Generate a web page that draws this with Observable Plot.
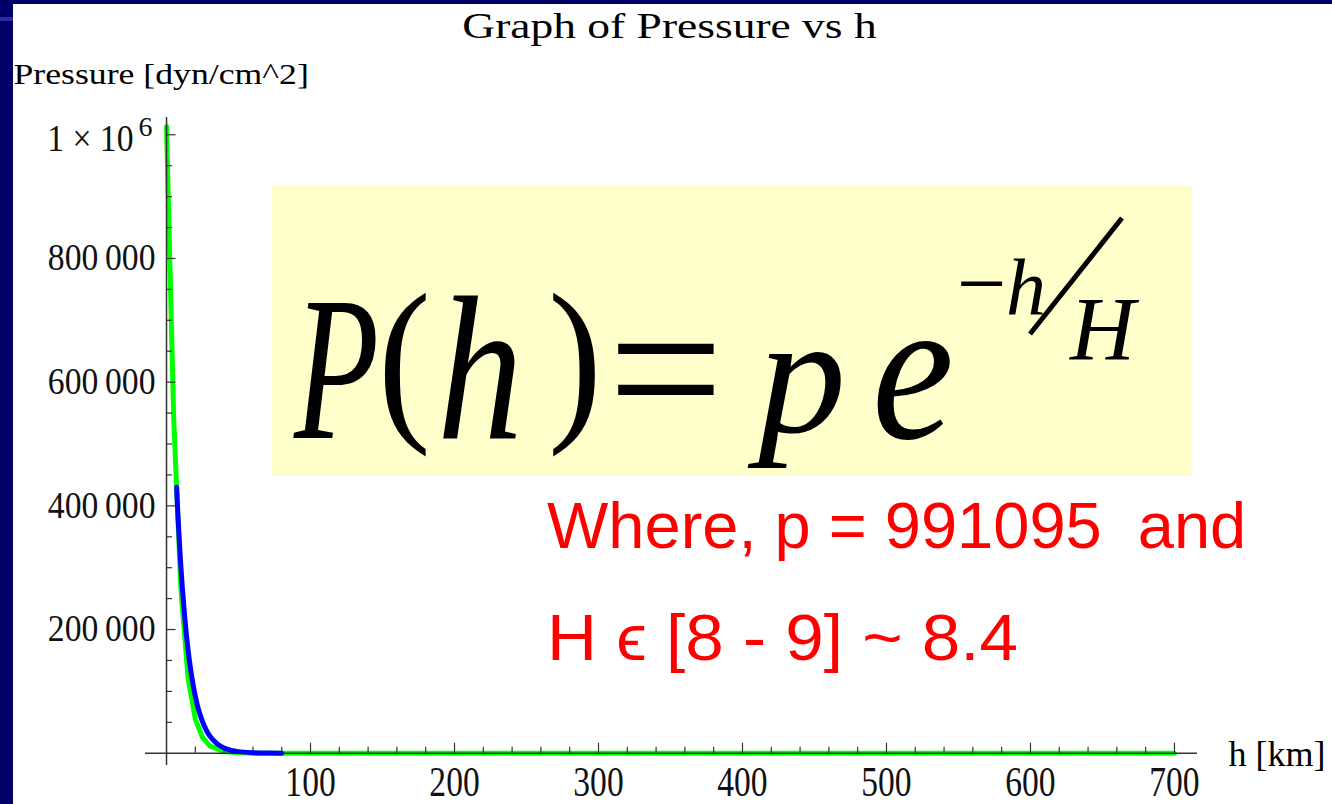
<!DOCTYPE html>
<html><head><meta charset="utf-8">
<script src="https://cdn.jsdelivr.net/npm/d3@7"></script>
<script src="https://cdn.jsdelivr.net/npm/@observablehq/plot@0.6"></script>
<style>
html,body{margin:0;padding:0;}
body{width:1332px;height:804px;background:#000066;position:relative;overflow:hidden;}
#panel{position:absolute;left:13px;top:4px;right:0;bottom:0;background:#fff;}
#stripe{position:absolute;left:0;top:17px;width:13px;height:4px;background:#2a2aa8;}
#chart{position:absolute;left:0;top:0;}
#note{position:absolute;left:0;top:0;}
</style></head><body>
<div id="panel"></div><div id="stripe"></div>
<div id="chart"></div>
<svg id="note" width="1332" height="804" xmlns="http://www.w3.org/2000/svg">
  <rect x="272" y="185" width="920" height="291" fill="#FFFFCC"/>
  <g font-family="'Liberation Serif','Times New Roman',serif" fill="#000">
    <text font-style="italic" font-size="205" transform="translate(294,438) scale(0.68,1)">P</text>
    <text font-size="180" transform="translate(378,418) scale(0.88,1)">(</text>
    <text font-style="italic" font-size="205" transform="translate(437,438) scale(0.84,1)">h</text>
    <text font-size="180" transform="translate(548,418) scale(0.9,1)">)</text>
    <text font-size="205" transform="translate(608,438)">=</text>
    <text font-style="italic" font-size="200" transform="translate(758,432) scale(0.88,0.85)">p</text>
    <text font-style="italic" font-size="205" transform="translate(872,438) scale(0.9,1)">e</text>
    <text font-size="88" transform="translate(957,313)">−</text>
    <text font-style="italic" font-size="80" transform="translate(1006,314)">h</text>
    <line x1="1030" y1="334" x2="1122" y2="218" stroke="#000" stroke-width="5"/>
    <text font-style="italic" font-size="90" transform="translate(1070,360)">H</text>
  </g>
  <g font-family="'Liberation Sans',Arial,sans-serif" font-size="65" fill="#FF0000" style="white-space:pre">
    <text x="547" y="548" xml:space="preserve">Where, p = 991095  and</text>
    <text transform="translate(547,660) scale(1.065,1)" xml:space="preserve">H ϵ [8 - 9] ~ 8.4</text>
  </g>
</svg>
<script>
// ---- data ----
const greenH = [0, 5, 10, 15, 20, 25, 30, 40, 50, 60, 70, 80, 90, 100, 150, 200, 300, 400, 500, 600, 700];
const greenP = [1013250, 540480, 265000, 121110, 55290, 25490, 11970, 2871, 798, 219, 52, 10.5, 1.8, 0.32, 0.0045, 0.00085, 0.00009, 0.000015, 0.000003, 0.0000008, 0.0000003];
const blueH = [7, 8, 9, 10, 12, 14, 16, 18, 20, 22, 25, 28, 30, 35, 40, 45, 50, 60, 70, 80];
const blueP = [430000, 381000, 339000, 301000, 238000, 187000, 148000, 117000, 92000, 72600, 51000, 35600, 28000, 15600, 8500, 4700, 2600, 800, 240, 72];
const xTicks = [100, 200, 300, 400, 500, 600, 700];
const xTickLabels = ["100", "200", "300", "400", "500", "600", "700"];
const yTicks = [200000, 400000, 600000, 800000, 1000000];
const yTickLabels = ["200\u2009000", "400\u2009000", "600\u2009000", "800\u2009000", "1 \u00d7 10"];
const yTickExponents = ["", "", "", "", "6"];
const titleText = "Graph of Pressure vs h";
const yLabelText = "Pressure [dyn/cm^2]";
const xLabelText = "h [km]";

const green = greenH.map((h, i) => ({h, p: greenP[i]}));
const blue = blueH.map((h, i) => ({h, p: blueP[i]}));
const yTickData = yTicks.map((v, i) => ({v, label: yTickLabels[i], exp: yTickExponents[i]}));
const xTickData = xTicks.map((v, i) => ({v, label: xTickLabels[i]}));
const xMinor = d3.range(20, 701, 20).filter(v => v % 100);
const yMinor = d3.range(50000, 1000001, 50000).filter(v => v % 200000);

// ---- layout ----
const xDomain = [-14.6, 716], xRange = [145, 1197];
const yDomain = [-19800, 1027900], yRange = [765, 117];
const kx = (xRange[1] - xRange[0]) / (xDomain[1] - xDomain[0]);
const ky = (yRange[0] - yRange[1]) / (yDomain[1] - yDomain[0]);
const serif = "'Liberation Serif','Times New Roman',serif";
const axisColor = "#333";

const chart = Plot.plot({
  width: 1332, height: 804,
  marginLeft: 145, marginRight: 135, marginTop: 117, marginBottom: 39,
  x: {domain: xDomain, range: xRange, axis: null},
  y: {domain: yDomain, range: yRange, axis: null},
  style: {background: "transparent", overflow: "visible"},
  marks: [
    Plot.line(green, {x: "h", y: "p", stroke: "#00ff00", strokeWidth: 5, strokeLinejoin: "round"}),
    Plot.ruleY([0], {stroke: axisColor, strokeWidth: 1.5}),
    Plot.ruleX([0], {stroke: axisColor, strokeWidth: 1.5}),
    Plot.ruleY(yTicks, {y: d => d, x1: 0, x2: 9.5 / kx, stroke: axisColor, strokeWidth: 1.2}),
    Plot.ruleY(yMinor, {y: d => d, x1: 0, x2: 6 / kx, stroke: axisColor, strokeWidth: 1.2}),
    Plot.ruleX(xTicks, {x: d => d, y1: 0, y2: 10 / ky, stroke: axisColor, strokeWidth: 1.2}),
    Plot.ruleX(xMinor, {x: d => d, y1: 0, y2: 6 / ky, stroke: axisColor, strokeWidth: 1.2}),
    Plot.line(blue, {x: "h", y: "p", stroke: "#0000ff", strokeWidth: 5, curve: "monotone-x"}),
    Plot.text(yTickData, {x: 0, y: "v", text: "label", textAnchor: "end", lineAnchor: "middle",
      fontFamily: serif, fontSize: 37, fill: "#111"}),
    Plot.text(yTickData.filter(d => d.exp), {x: 0, y: "v", text: "exp", textAnchor: "end", dx: -14, dy: -8,
      fontFamily: serif, fontSize: 28, fill: "#111"}),
    Plot.text(xTickData, {x: "v", y: 0, text: "label", textAnchor: "middle", lineAnchor: "bottom", dy: 43,
      fontFamily: serif, fontSize: 43, fill: "#111"}),
    Plot.text([titleText], {frameAnchor: "top", text: d => d, lineAnchor: "bottom", dx: -2, dy: -80,
      fontFamily: serif, fontSize: 35, fill: "#000"}),
    Plot.text([yLabelText], {frameAnchor: "top-left", text: d => d, textAnchor: "start", lineAnchor: "bottom", dx: -132, dy: -34,
      fontFamily: serif, fontSize: 30, fill: "#000"}),
    Plot.text([xLabelText], {frameAnchor: "bottom-right", text: d => d, textAnchor: "start", lineAnchor: "bottom", dx: 31, dy: 0,
      fontFamily: serif, fontSize: 36, fill: "#000"})
  ]
});
document.getElementById("chart").appendChild(chart);

// horizontal glyph proportions of the reference's texts
function addTransform(el, extra) {
  let t = el.getAttribute("transform");
  if (!t) {
    const x = el.getAttribute("x") || 0, y = el.getAttribute("y") || 0;
    el.removeAttribute("x"); el.removeAttribute("y");
    t = `translate(${x},${y})`;
  }
  el.setAttribute("transform", `${t} ${extra}`);
}
chart.querySelectorAll("text").forEach(el => {
  const s = el.textContent;
  const yi = yTickLabels.indexOf(s);
  if (yi >= 0) addTransform(el, yTickExponents[yi] ? "translate(-33,4) scale(0.91,1)" : "translate(-11,0) scale(0.91,1)");
  else if (xTickLabels.includes(s)) addTransform(el, "scale(0.78,1)");
  else if (s === titleText) addTransform(el, "scale(1.30,1)");
  else if (s === yLabelText) addTransform(el, "scale(1.19,1)");
});
</script>
</body></html>
